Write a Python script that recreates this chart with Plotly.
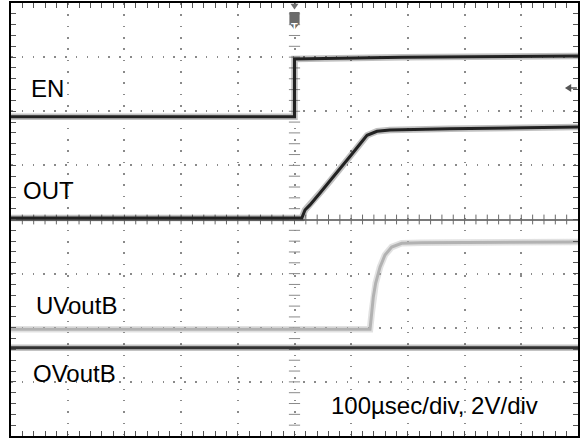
import numpy as np
import plotly.graph_objects as go

# ---- data (time in µs, 100 µs/div; volts, 2 V/div) ----
en_time = [-500, 0, 0, 190, 500]
en_volts = [0.0, 0.0, 2.13, 2.20, 2.24]
en_offset_div = 1.90

out_time = [-500, 13, 18.5, 27.3, 45, 62.6, 80.2, 101.4, 115.5, 127.9, 145.5, 168.4, 274, 500]
out_volts = [0.0, 0.0, 0.29, 0.48, 0.92, 1.36, 1.82, 2.36, 2.73, 3.05, 3.20, 3.25, 3.29, 3.36]
out_offset_div = 0.03

uv_time = [-500, 133.2, 136.2, 139, 143.2, 150.8, 159.6, 171.4, 189, 224, 500]
uv_volts = [0.0, 0.0, 0.61, 1.20, 1.71, 2.30, 2.75, 3.04, 3.18, 3.20, 3.23]
uv_offset_div = -2.03

ov_time = [-500, 500]
ov_volts = [0.0, 0.0]
ov_offset_div = -2.37

volts_per_div = 2.0
labels = ["EN", "OUT", "UVoutB", "OVoutB"]
scale_text = "100µsec/div, 2V/div"


def to_div(volts, offset):
    return [offset + v / volts_per_div for v in volts]


fig = go.Figure()

# center crosshair tick marks
minor_x = np.arange(-480, 481, 20)
minor_y = np.round(np.arange(-3.8, 3.81, 0.2), 3)
fig.add_trace(go.Scatter(x=minor_x, y=np.zeros_like(minor_x), mode="markers",
                         marker=dict(symbol="line-ns", size=7, line=dict(width=1, color="#6a6a6a")),
                         hoverinfo="skip", showlegend=False))
fig.add_trace(go.Scatter(x=np.zeros_like(minor_y), y=minor_y, mode="markers",
                         marker=dict(symbol="line-ew", size=8, line=dict(width=1, color="#8a8a8a")),
                         hoverinfo="skip", showlegend=False))

channels = [
    (ov_time, ov_volts, ov_offset_div, "#333333", "rgba(40,40,40,0.28)", labels[3]),
    (uv_time, uv_volts, uv_offset_div, "#b2b2b2", "rgba(170,170,170,0.35)", labels[2]),
    (out_time, out_volts, out_offset_div, "#222222", "rgba(30,30,30,0.28)", labels[1]),
    (en_time, en_volts, en_offset_div, "#222222", "rgba(30,30,30,0.28)", labels[0]),
]
for t, v, off, core, halo, name in channels:
    ys = to_div(v, off)
    fig.add_trace(go.Scatter(x=t, y=ys, mode="lines", line=dict(color=halo, width=6.5),
                             hoverinfo="skip", showlegend=False))
    fig.add_trace(go.Scatter(x=t, y=ys, mode="lines", line=dict(color=core, width=3),
                             name=name, showlegend=False))

font = dict(family="Arial, Liberation Sans, sans-serif", size=24, color="black")
label_pos = [(-469, 2.42), (-483, 0.545), (-460, -1.58), (-464, -2.845)]
for text, (lx, ly) in zip(labels, label_pos):
    fig.add_annotation(x=lx, y=ly, text=text, showarrow=False, xanchor="left",
                       yanchor="middle", font=font)
fig.add_annotation(x=60, y=-3.44, text=scale_text, showarrow=False, xanchor="left",
                   yanchor="middle", font=font)

# trigger marker
fig.add_shape(type="path", xref="x", yref="paper",
              path="M -7,0.998 L 7,0.998 L 0,0.985 Z",
              fillcolor="#707070", line=dict(width=0))
fig.add_shape(type="path", xref="x", yref="paper",
              path="M -9,0.979 L 9,0.979 L 9,0.953 L 0,0.938 L -9,0.953 Z",
              fillcolor="#6a6a6a", line=dict(width=0))
fig.add_annotation(x=0, y=0.962, xref="x", yref="paper", text="<b>T</b>", showarrow=False,
                   font=dict(family="Arial, Liberation Sans", size=11, color="white"))
# ground-reference arrow at right edge
fig.add_shape(type="path", xref="x", yref="y",
              path="M 477,2.43 L 488,2.505 L 488,2.355 Z",
              fillcolor="#555555", line=dict(width=0))
fig.add_shape(type="line", xref="x", yref="y", x0=486, x1=498, y0=2.43, y1=2.43,
              line=dict(color="#555555", width=1.5))

axis_common = dict(showticklabels=False, showgrid=True, gridcolor="#8a8a8a", gridwidth=1.5,
                   showline=True, linecolor="black", linewidth=2, mirror="allticks",
                   ticks="inside", ticklen=5, tickcolor="#555555", tickwidth=1)
fig.update_xaxes(range=[-500, 500], tick0=0, dtick=100, zeroline=False,
                 griddash="1.5px,9.84px",
                 minor=dict(dtick=20, ticks="inside", ticklen=5, tickcolor="#555555",
                            showgrid=False),
                 **axis_common)
fig.update_yaxes(range=[-4, 4], tick0=0, dtick=1, zeroline=True, zerolinecolor="#7a7a7a",
                 zerolinewidth=1.5, griddash="1.5px,9.33px",
                 minor=dict(dtick=0.2, ticks="inside", ticklen=5, tickcolor="#555555",
                            showgrid=False),
                 **axis_common)

fig.update_layout(width=582, height=438, margin=dict(l=11, r=4, t=3, b=2, pad=0),
                  plot_bgcolor="white", paper_bgcolor="white", showlegend=False)

fig.write_html("out.html", config={"displayModeBar": False},
               post_script="document.body.style.margin='0px';document.body.style.overflow='hidden';")
